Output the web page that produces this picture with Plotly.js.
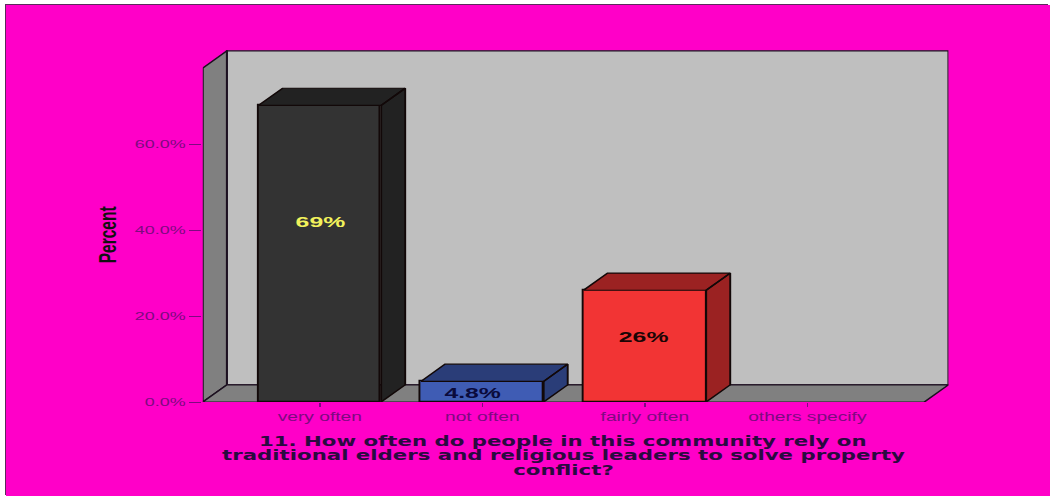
<!DOCTYPE html>
<html>
<head>
<meta charset="utf-8">
<script src="https://cdn.plot.ly/plotly-3.0.1.min.js"></script>
<style>
  html, body { margin: 0; padding: 0; background: #fff; overflow: hidden; width: 1050px; height: 496px; }
  #frame { position: absolute; left: 7px; top: 5px; width: 1043px; height: 491px;
           box-shadow: -2px -1px 0 #5c2a5c; }
  /* The figure is laid out narrow and widened as a whole, so its lettering is wide and flat. */
  #chart { position: absolute; left: -1px; top: 0; transform: scaleX(1.6); transform-origin: 0 0; }
</style>
</head>
<body>
<div id="frame"><div id="chart"></div></div>
<script>
const categories = ["very often", "not often", "fairly often", "others specify"];
const percents = [69, 4.8, 26, null];
const valueLabels = ["69%", "4.8%", "26%"];
const labelHeightShare = [0.61, 0.47, 0.59];
const labelNudge = [0, -6, -1];
const labelColors = ["#f2f25c", "#0a0a3c", "#1a0505"];
const frontColors = ["#333333", "#3f5cb4", "#f23434", "#808080"];
const sideColors = ["#222222", "#2a3d78", "#9b2222", "#808080"];
const yTicks = [0, 20, 40, 60];
const yTickLabels = ["0.0%", "20.0%", "40.0%", "60.0%"];
const questionLines = [
  "11. How often do people in this community rely on",
  "traditional elders and religious leaders to solve property",
  "conflict?"
];

const stretch = 1.6;
const inkColor = "#1c1020";
const tickColor = "#7d0a80";
const font = "Liberation Sans, Arial, sans-serif";
const titleFont = "DejaVu Sans, Verdana, sans-serif";

// Extent of the box in axis units, and the receding offset of the 3-D effect.
const xFront0 = -0.72, xFront1 = 3.72, depthX = 0.148;
const yTop = 77.7, depthY = 4.0, yMax = 81.9;
const barWidth = 0.755;

const indices = categories.map((_, i) => i);

function polygon(points, fill) {
  return { type: "path", xref: "x", yref: "y", layer: "below",
    path: "M" + points.map(p => p[0] + "," + p[1]).join("L") + "Z",
    fillcolor: fill, line: { color: inkColor, width: 1.2 } };
}

const boxShapes = [
  polygon([[xFront0 + depthX, depthY], [xFront1 + depthX, depthY], [xFront1 + depthX, yTop + depthY], [xFront0 + depthX, yTop + depthY]], "#bfbfbf"),
  polygon([[xFront0, 0], [xFront0 + depthX, depthY], [xFront0 + depthX, yTop + depthY], [xFront0, yTop]], "#808080"),
  polygon([[xFront0, 0], [xFront1, 0], [xFront1 + depthX, depthY], [xFront0 + depthX, depthY]], "#808080")
];

const frontBars = {
  type: "bar", x: indices, y: percents, width: barWidth,
  marker: { color: frontColors, line: { color: "#120808", width: 1.2 } },
  hoverinfo: "x+y", showlegend: false
};

// Right side and top of each bar, drawn in axis units from the bar's value.
const depthFaces = [];
percents.forEach((v, i) => {
  if (v === null) return;
  const x0 = i - barWidth / 2, x1 = i + barWidth / 2;
  depthFaces.push({
    type: "scatter", mode: "lines", fill: "toself", fillcolor: sideColors[i],
    x: [x1, x1 + depthX, x1 + depthX, x1, x1, null, x0, x0 + depthX, x1 + depthX, x1, x0],
    y: [0, depthY, v + depthY, v, 0, null, v, v + depthY, v + depthY, v, v],
    line: { color: "#120808", width: 1.2 }, hoverinfo: "skip", showlegend: false
  });
});

const valueAnnotations = valueLabels.map((t, i) => ({
  x: indices[i], y: percents[i] * labelHeightShare[i], xref: "x", yref: "y", xshift: labelNudge[i],
  text: "<b>" + t + "</b>", showarrow: false,
  font: { family: font, size: 15.5, color: labelColors[i] }
}));

// The question sits in three tightly spaced lines under the category labels.
const questionAnnotations = questionLines.map((line, i) => ({
  x: 1.5, y: 0, xref: "x", yref: "y", xanchor: "center", yanchor: "middle",
  yshift: -39 - 14.5 * i, showarrow: false,
  text: "<b>" + line + "</b>",
  font: { family: titleFont, size: 13.3, color: "#2a0a40" }
}));

const percentTitle = {
  x: xFront0, y: 38.8, xref: "x", yref: "y", xanchor: "center", yanchor: "middle",
  xshift: -60, textangle: -90, showarrow: false,
  text: "<b>Percent</b>",
  font: { family: font, size: 15.5, color: "#111111" }
};

const layout = {
  width: 1044 / stretch, height: 491,
  margin: { l: (203 - 7) / stretch, r: (1050 - 947) / stretch, t: 45, b: 94 },
  paper_bgcolor: "#ff00c8", plot_bgcolor: "rgba(0,0,0,0)",
  showlegend: false, bargap: 0,
  xaxis: {
    range: [xFront0, xFront1 + depthX], tickmode: "array", tickvals: indices, ticktext: categories,
    showgrid: false, zeroline: false, showline: false,
    ticks: "outside", ticklen: 4, tickcolor: tickColor, tickwidth: 1,
    tickfont: { family: font, size: 12, color: tickColor }
  },
  yaxis: {
    range: [0, yMax], tickmode: "array", tickvals: yTicks, ticktext: yTickLabels,
    showgrid: false, zeroline: false, showline: false,
    ticks: "outside", ticklen: 7.5, tickcolor: tickColor, tickwidth: 1,
    tickfont: { family: font, size: 11.2, color: tickColor }
  },
  shapes: boxShapes,
  annotations: valueAnnotations.concat(questionAnnotations, [percentTitle])
};

Plotly.newPlot("chart", [frontBars].concat(depthFaces), layout, { displayModeBar: false, responsive: false });
</script>
</body>
</html>
